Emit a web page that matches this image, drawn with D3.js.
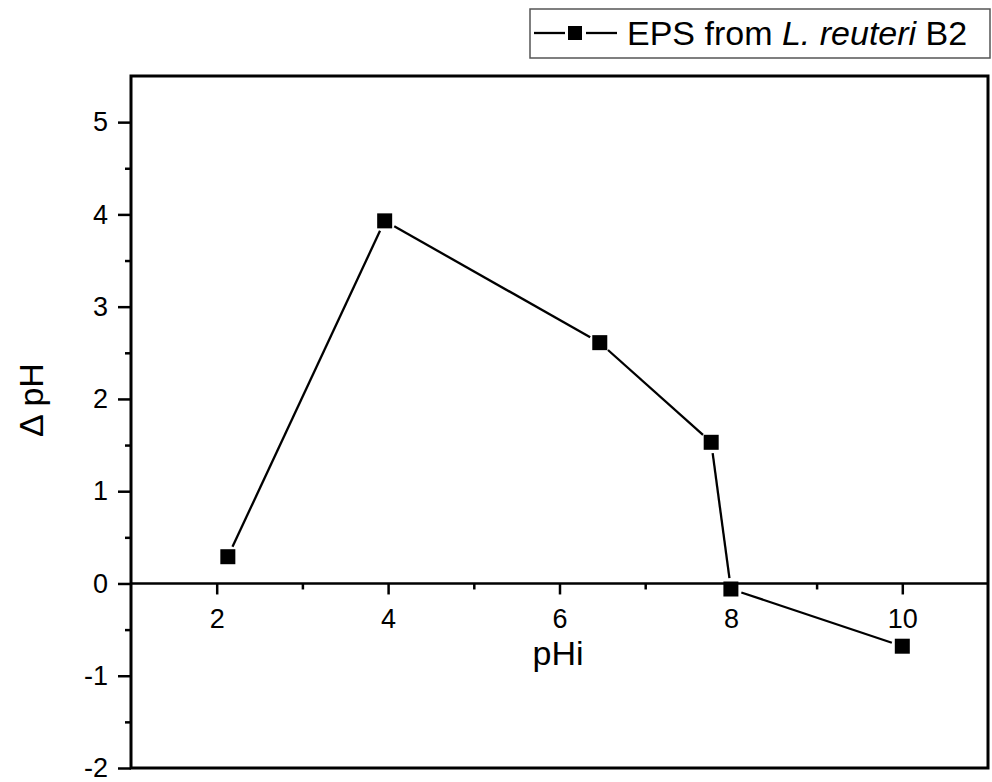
<!DOCTYPE html>
<html>
<head>
<meta charset="utf-8">
<script src="https://cdn.jsdelivr.net/npm/d3@7"></script>
<style>
  body { margin: 0; background: #fff; }
  svg { display: block; font-family: "Liberation Sans", Arial, sans-serif; }
</style>
</head>
<body>
<svg id="chart"></svg>
<script>
var W = 992, H = 782;
var margin = {left: 131, top: 76, right: 4, bottom: 14};   // 绘图区边距

// 数据
var phi = [2.13, 3.96, 6.47, 7.77, 8.0, 10.0];
var deltaPH = [0.29, 3.93, 2.61, 1.53, -0.06, -0.68];
var xTicks = [2, 4, 6, 8, 10];
var xMinor = [3, 5, 7, 9];
var yTicks = [-2, -1, 0, 1, 2, 3, 4, 5];
var yMinor = [-1.5, -0.5, 0.5, 1.5, 2.5, 3.5, 4.5];
var seriesName = ["EPS from ", "L. reuteri", " B2"];

var svg = d3.select("#chart").attr("width", W).attr("height", H);

var x = d3.scaleLinear().domain([1, 11]).range([margin.left, W - margin.right]);
var y = d3.scaleLinear().domain([-2, 5.5]).range([H - margin.bottom, margin.top]);

function fmt(d) { return String(d); }   // 用普通连字符作负号

// y轴 主刻度
var yAxis = d3.axisLeft(y).tickValues(yTicks).tickSize(13).tickPadding(10).tickFormat(fmt);
var gy = svg.append("g").attr("transform", "translate(" + margin.left + ",0)").call(yAxis);
gy.select(".domain").remove();
gy.selectAll(".tick line").attr("stroke", "#000").attr("stroke-width", 2.5);
gy.selectAll(".tick text").attr("font-size", "27px").attr("fill", "#000")
    .attr("font-family", "Liberation Sans, Arial, sans-serif");

// y轴 次刻度
svg.append("g").attr("transform", "translate(" + margin.left + ",0)")
    .call(d3.axisLeft(y).tickValues(yMinor).tickSize(6).tickFormat(""))
    .call(function (g) { g.select(".domain").remove(); })
    .selectAll(".tick line").attr("stroke", "#000").attr("stroke-width", 2.5);

// x轴 放在 y=0 处
var xAxis = d3.axisBottom(x).tickValues(xTicks).tickSize(11).tickPadding(14).tickFormat(fmt);
var gx = svg.append("g").attr("transform", "translate(0," + y(0) + ")").call(xAxis);
gx.select(".domain").remove();
gx.selectAll(".tick line").attr("stroke", "#000").attr("stroke-width", 2.5);
gx.selectAll(".tick text").attr("font-size", "27px").attr("fill", "#000")
    .attr("font-family", "Liberation Sans, Arial, sans-serif");

svg.append("g").attr("transform", "translate(0," + y(0) + ")")
    .call(d3.axisBottom(x).tickValues(xMinor).tickSize(6).tickFormat(""))
    .call(function (g) { g.select(".domain").remove(); })
    .selectAll(".tick line").attr("stroke", "#000").attr("stroke-width", 2.5);

// 零线
svg.append("line")
    .attr("x1", x(1)).attr("x2", x(11))
    .attr("y1", y(0)).attr("y2", y(0))
    .attr("stroke", "#000").attr("stroke-width", 2.5);

// 边框
svg.append("rect")
    .attr("x", x(1)).attr("y", y(5.5))
    .attr("width", x(11) - x(1)).attr("height", y(-2) - y(5.5))
    .attr("fill", "none").attr("stroke", "#000").attr("stroke-width", 3);

// 坐标轴标题
svg.append("text").attr("x", 558).attr("y", 665)
    .attr("text-anchor", "middle").attr("font-size", "34px").text("pHi");
svg.append("text")
    .attr("transform", "translate(43,400) rotate(-90)")
    .attr("text-anchor", "middle").attr("font-size", "34px").text("\u0394 pH");

// 折线 (两端留空隙)
var pts = phi.map(function (d, i) { return [x(d), y(deltaPH[i])]; });
var gap = 11;
svg.selectAll("line.seg").data(d3.pairs(pts)).enter().append("line").attr("class", "seg")
    .each(function (p) {
        var dx = p[1][0] - p[0][0], dy = p[1][1] - p[0][1];
        var L = Math.sqrt(dx * dx + dy * dy);
        var ux = dx / L, uy = dy / L;
        d3.select(this)
            .attr("x1", p[0][0] + ux * gap).attr("y1", p[0][1] + uy * gap)
            .attr("x2", p[1][0] - ux * gap).attr("y2", p[1][1] - uy * gap);
    })
    .attr("stroke", "#000").attr("stroke-width", 2.3);

var ms = 15;
svg.selectAll("rect.mk").data(pts).enter().append("rect").attr("class", "mk")
    .attr("x", function (d) { return d[0] - ms / 2; })
    .attr("y", function (d) { return d[1] - ms / 2; })
    .attr("width", ms).attr("height", ms).attr("fill", "#000");

// 图例
var lg = svg.append("g");
lg.append("rect").attr("x", 530).attr("y", 9).attr("width", 460).attr("height", 49)
    .attr("fill", "#fff").attr("stroke", "#555").attr("stroke-width", 1.5);
lg.append("line").attr("x1", 534).attr("x2", 565).attr("y1", 33).attr("y2", 33)
    .attr("stroke", "#000").attr("stroke-width", 2.3);
lg.append("line").attr("x1", 586).attr("x2", 617).attr("y1", 33).attr("y2", 33)
    .attr("stroke", "#000").attr("stroke-width", 2.3);
lg.append("rect").attr("x", 568).attr("y", 26).attr("width", 14).attr("height", 14).attr("fill", "#000");
var lt = lg.append("text").attr("x", 627).attr("y", 45).attr("font-size", "34px");
lt.append("tspan").text(seriesName[0]);
lt.append("tspan").attr("font-style", "italic").text(seriesName[1]);
lt.append("tspan").text(seriesName[2]);
</script>
</body>
</html>
